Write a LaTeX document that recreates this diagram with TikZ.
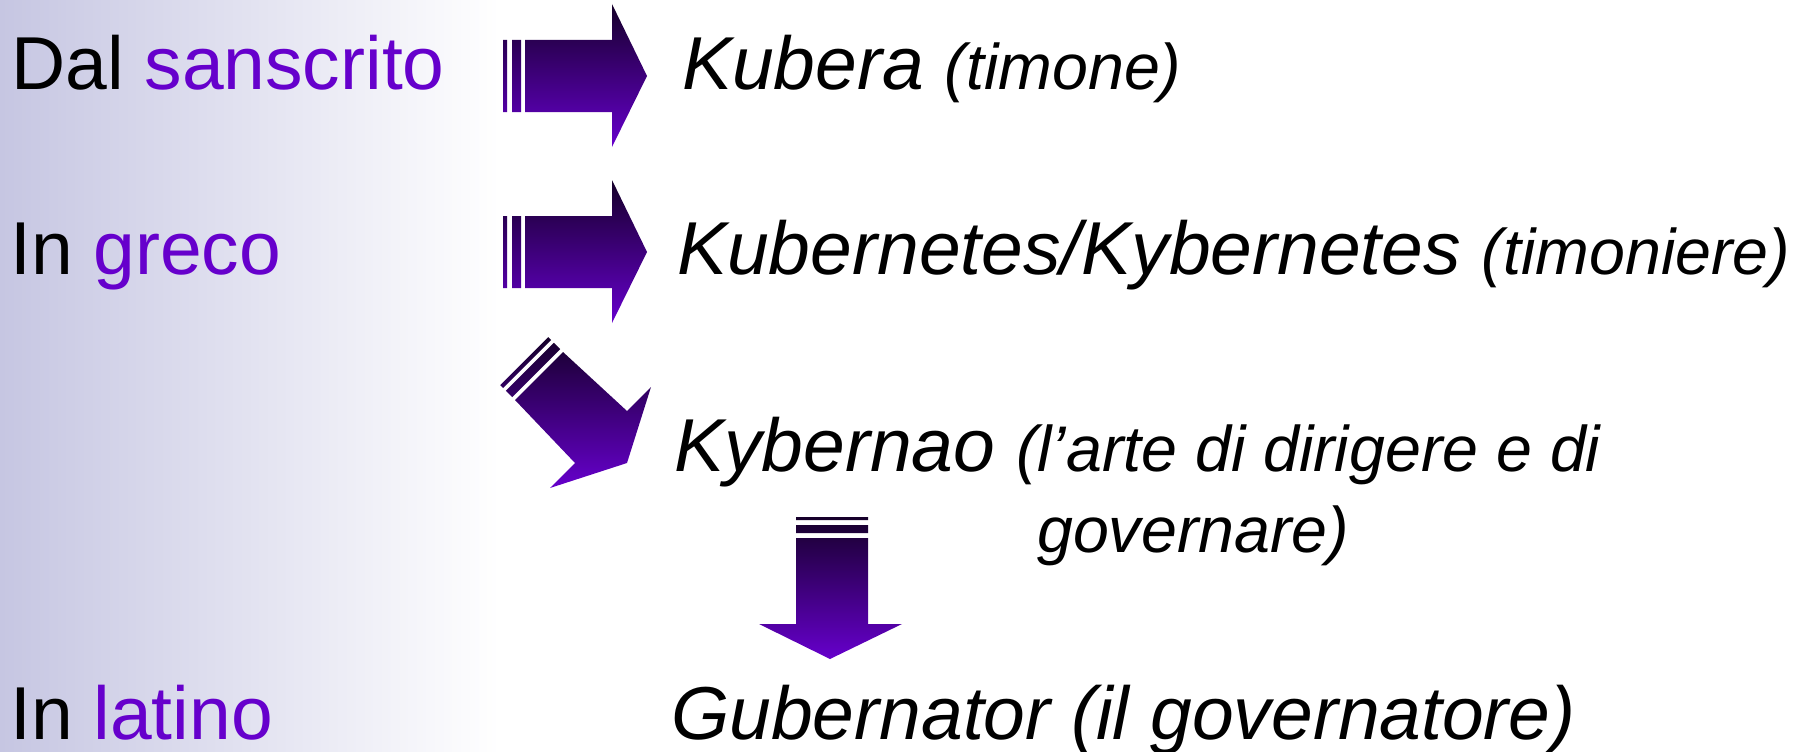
\documentclass[tikz,border=0pt]{standalone}
\usepackage{fontspec}
\setmainfont{Liberation Sans}
\usetikzlibrary{calc}
\definecolor{vio}{RGB}{102,0,204}
\definecolor{arrowtop}{RGB}{22,0,42}
\definecolor{arrowbot}{RGB}{102,0,204}
\definecolor{bgleft}{RGB}{198,198,226}
\newcommand{\glossfont}{\fontsize{64.5pt}{78pt}\selectfont}
\tikzset{
  big/.style={font=\fontsize{75pt}{90pt}\selectfont, inner sep=0pt, anchor=base west},
  word/.style={big, font=\fontsize{75pt}{90pt}\selectfont\itshape},
  blockarrow/.style={top color=arrowtop, bottom color=arrowbot, draw=none},
}
\begin{document}
\begin{tikzpicture}[x=1pt,y=-1pt]
% canvas and left-hand tint
\fill[white] (0,0) rectangle (1808,752);
\useasboundingbox (0,0) rectangle (1808,752);
\shade[left color=bgleft, right color=white] (0,0) rectangle (500,752);

% language labels
\node[big] (sanscrito) at (11,89) {Dal \textcolor{vio}{sanscrito}};
\node[big] (greco) at (10,274) {In \textcolor{vio}{greco}};
\node[big] (latino) at (10,739) {In \textcolor{vio}{latino}};

% words
\node[word] (kubera) at (682,89) {Kubera {\glossfont(timone)}};
\node[word] (kubernetes) at (677,274) {Kubernetes/Kybernetes {\glossfont(timoniere)}};
\node[word] (kybernao) at (674,471) {Kybernao {\glossfont(l’arte di dirigere e di}};
\node[word, font=\glossfont\itshape] (kybernao2) at (1037,552) {governare)};
\node[word] (gubernator) at (671,739) {Gubernator (il governatore)};

% striped arrow: sanscrito -> Kubera
\shade[blockarrow]
  (525,40) -- (612,40) -- (612,4) -- (647,76) -- (612,147) -- (612,112) -- (525,112) -- cycle
  (512,40) rectangle (521,112)
  (503,40) rectangle (507,112);

% striped arrow: greco -> Kubernetes
\shade[blockarrow]
  (525,216) -- (612,216) -- (612,180) -- (647,252) -- (612,323) -- (612,288) -- (525,288) -- cycle
  (512,216) rectangle (521,288)
  (503,216) rectangle (507,288);

% diagonal striped arrow -> Kybernao
\shade[blockarrow]
  (515,400) -- (563,352) -- (627,411) -- (651,387) -- (627,463) -- (550,488) -- (575,463) -- cycle
  (512.2,397.2) -- (560.2,349.2) -- (553.8,342.8) -- (505.8,390.8) -- cycle
  (503,388) -- (551,340) -- (548.2,337.2) -- (500.2,385.2) -- cycle;

% downward striped arrow -> Gubernator
\shade[blockarrow]
  (796,538) -- (868,538) -- (868,624) -- (902,624) -- (830,659) -- (759,624) -- (796,624) -- cycle
  (796,525) rectangle (868,533)
  (796,517) rectangle (868,520);
\end{tikzpicture}
\end{document}
